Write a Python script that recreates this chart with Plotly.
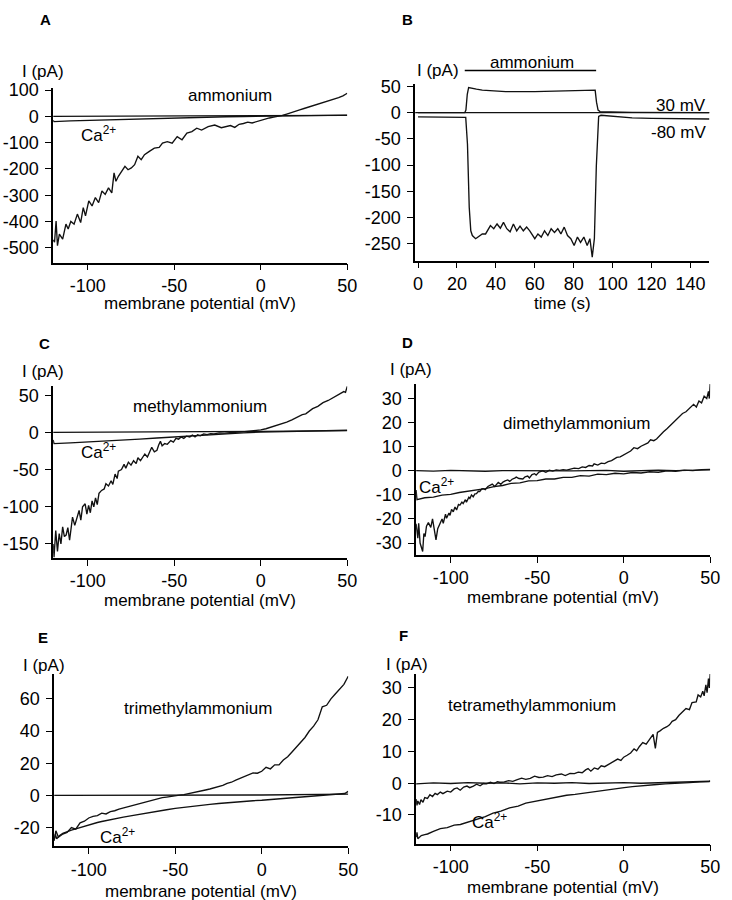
import plotly.graph_objects as go

# ---------------- data ----------------
# A: ammonium, I-V ramp
A_V = [-120, -119.2, -118.3, -117.5, -116.4, -114.5, -112.6, -111.3, -109.8, -107.9, -106, -104.1,
       -102.6, -101.3, -99.4, -97.5, -95.6, -93.7, -91.8, -89.9, -88, -86.1, -84.8, -83.7, -82.3,
       -80.4, -78.5, -76.7, -74.8, -72.9, -71, -69.1, -67.2, -64.4, -61.5, -58.7, -56.8, -54, -51.2,
       -48.3, -45.5, -42.7, -39.8, -37, -34.2, -30.4, -26.6, -22.8, -20, -17.5, -15, -12.5, -10,
       -7.5, -5, -2.5, 0, 2.5, 5, 7.5, 10, 12.5, 15, 17.5, 20, 22.5, 25, 27.5, 30, 32.5, 35, 37.5,
       40, 42.5, 45, 47.5, 50]
A_NH4 = [-470, -479, -398, -492, -448, -467, -410, -429, -400, -410, -372, -404,
         -347, -379, -322, -341, -309, -328, -284, -297, -272, -291, -215, -247, -228,
         -209, -190, -203, -196, -184, -152, -165, -146, -133, -121, -118, -102, -96, -102,
         -77, -89, -64, -58, -45, -52, -39, -33, -43, -38, -35, -42, -30, -27,
         -22, -25, -20, -16, -11, -6, -3, 0, 4, 9, 15, 20, 25, 30, 35, 40, 44, 49, 55,
         60, 66, 71, 78, 88]
A_CA_V = [-120, -119.5, -110, -100, -90, -80, -70, -60, -50, -40, -30, -20, -10, 0, 10, 20, 30, 40, 50]
A_CA = [-15, -20, -17, -15, -13, -11, -9, -7, -5, -3.5, -2.5, -1.5, -0.5, 0.5, 1.5, 2.5, 3.5, 4.5, 5]
A_BASE_V = [-120, -60, 0, 50]
A_BASE = [0, 1, 2.5, 4]

# B: time course at 30 mV and -80 mV
B_T30 = [0, 10, 20, 24, 24.6, 25.3, 26, 27, 30, 33, 36, 40, 45, 50, 55, 60, 65, 70, 75, 80,
         85, 90, 91, 91.7, 92.5, 93.5, 100, 110, 150]
B_I30 = [0, 0, 0, 0, 5, 35, 48, 47, 45, 43, 42, 41, 40, 40, 39.5, 40, 40.5, 41, 42, 42.5,
         43, 44, 43, 20, 5, 2, 1, 0.5, 0]
B_T80 = [0, 10, 20, 24.5, 25.4, 26.3, 27.1, 27.9, 29.6, 31.3, 33.0, 34.7, 37.2, 38.9, 40.6, 42.3,
         43.9, 45.6, 47.3, 49.0, 50.7, 52.4, 54.1, 55.8, 57.4, 60.0, 61.6, 63.3, 65.0, 66.7, 68.4,
         70.1, 71.8, 73.4, 75.1, 76.8, 78.5, 80.2, 81.9, 83.5, 85.2, 86.9, 88.3, 89.5, 90.6, 91.6,
         92.8, 94, 97, 100, 110, 120, 130, 140, 150]
B_I80 = [-8, -8, -8, -9, -60, -180, -225, -234, -240, -236, -231, -231, -215, -221, -212, -220,
         -209, -221, -227, -212, -225, -216, -225, -218, -225, -240, -231, -237, -225, -234, -221,
         -228, -221, -231, -218, -234, -240, -253, -237, -247, -237, -253, -240, -275, -240, -102,
         -7, -5, -6, -8, -10, -11, -11, -12, -12]
B_BASE_T = [-1.5, 150]
B_BASE = [0, 0]
B_BAR_T = [24, 91.5]  # ammonium application

# C: methylammonium
C_V = [-120, -119.5, -118.5, -117.5, -116.5, -115.5, -114.5, -113.5, -112.5, -111.5, -110.5, -109.5,
       -108.8, -107.5, -106, -105, -104, -103, -101.5, -100.5, -99.5, -98.5, -97.5, -96.5, -95.5,
       -94.5, -93.5, -92, -90.5, -89.5, -88, -86.5, -85.5, -84.2, -83, -82.3, -80.5, -79, -78,
       -76.5, -75, -73.5, -72, -71, -69.5, -68, -67, -65.5, -64, -63, -61.5, -60, -59, -58, -57,
       -55.5, -54, -52, -50.5, -49, -47.5, -46, -44.5, -43, -41, -39.5, -38, -36.5, -35, -33, -31,
       -29, -27, -24, -21, -18, -15, -12, -9, -6, -3, 0, 3, 6, 9, 12, 15, 18, 21, 24, 26, 28, 30,
       33, 36, 39, 42, 45, 48, 49, 50]
C_MA = [-150, -168, -132, -160, -136, -150, -127, -140, -138, -128, -145, -125,
        -114, -125, -112, -105, -118, -100, -96, -110, -98, -108, -92, -100, -88,
        -97, -82, -78, -76, -69, -72, -65, -70, -56, -62, -52, -50, -43, -48,
        -40, -44, -38, -42, -34, -38, -32, -29, -33, -24, -20, -26, -24, -17, -12, -18,
        -15, -16, -11, -13, -8, -9, -6, -8, -5, -6, -3.5, -6, -3, -4.5, -2, -3,
        -1.5, -2, -0.5, -1, 0, 0.3, 0.5, 1, 1.8, 2.5, 3.5, 5, 7, 9, 11.5, 14, 17, 21, 24, 25, 28, 32,
        35, 40, 43, 47, 50, 55, 54, 62]
C_CA_V = [-120, -119.5, -110, -100, -90, -80, -70, -60, -50, -40, -30, -20, -10, 0, 10, 20, 30, 40, 50]
C_CA = [-10, -15, -14, -13, -12, -10.5, -9, -7.5, -6, -4.5, -3, -1.5, -0.5, 0.5, 1, 1.5, 2, 2.5, 3]
C_BASE_V = [-120, -60, 0, 50]
C_BASE = [0, 0.5, 1.5, 2.5]

# D: dimethylammonium
D_V = [-120, -119, -118.5, -117.7, -116.2, -115.5, -114.8, -114, -112.9, -111.5, -110.5, -110, -108.5,
       -107.5, -106.2, -105, -104.3, -103, -102.4, -101, -100.4, -99.5, -98.5, -97.5, -96.6, -95.5,
       -94.7, -93.5, -92.8, -91.5, -90.9, -89.5, -88.9, -88, -87, -86, -85.1, -84, -83.2, -82, -81.2,
       -80, -78.5, -77.4, -76, -74.5, -73.6, -72.5, -71, -69.8, -68.5, -67, -65.9, -64.5, -63, -62.1,
       -60.5, -58.3, -57, -55.5, -54.5, -53, -51.5, -50.6, -49, -47.5, -46.8, -45, -43, -41, -39, -37,
       -35, -33, -30, -28.6, -26, -24, -22, -20, -18, -17.1, -15, -13, -11, -9, -7, -5.6, -4, -2, 0, 2,
       4, 5.9, 8, 10, 12, 14, 15.5, 17.4, 19, 21, 23, 25, 27, 28.9, 30, 32, 34, 36, 38, 40.4, 42, 43.5,
       45, 46.5, 48, 49, 49.5, 50]
D_DMA = [-22, -28, -21.8, -30, -33.5, -26, -27.3, -23, -21.5, -23.5, -20, -21.8, -28.7,
         -24, -22, -20, -21.8, -18, -19.7, -17.5, -18.5, -16, -17, -15, -16.3, -14,
         -14.3, -13, -13.6, -12, -13, -11, -11.5, -10, -10.8, -9.6, -9.5, -8.5, -8.6, -7.5, -7.4,
         -7.8, -6.5, -6.0, -5.5, -6.5, -5.5, -4.8, -5.6, -4.7, -4.2, -3.8, -4.4, -3.5, -3.0, -2.6,
         -3.2, -3.4, -2.5, -2.2, -3.0, -1.6, -1.2, -1.8, -0.5, -0.3, 0, -0.6, 0.2, -0.1, 0.4, 0.2,
         0.5, 0.3, 0.8, 1.1, 0.9, 1.6, 1.4, 2.2, 2.0, 2.9, 2.4, 3.2, 3.0, 3.8, 4.2, 4.9, 5.6, 5.8, 6.6, 7.5,
         8.2, 9.6, 9.2, 10.2, 11, 11.6, 12.9, 12.5, 13.2, 14.8, 16.2, 17.5, 18.9, 20.2, 21.2, 22.3, 23.8, 24.5, 25.8, 27.6, 26.5, 29,
         28.2, 31, 30, 33, 30, 36]
D_CA_V = [-120, -119.5, -115, -110, -105, -100, -95, -90, -85, -80, -75, -70, -65, -60, -55, -50,
          -45, -40, -35, -30, -25, -20, -15, -10, -5, 0, 5, 10, 15, 20, 25, 30, 35, 40, 45, 50]
D_CA = [-8, -12, -11.2, -10.9, -10.1, -9.8, -9.0, -8.5, -7.8, -7.4, -6.6, -6.1, -5.2, -5.0, -4.2, -4.1,
        -3.4, -3.4, -2.7, -2.7, -2.0, -2.2, -1.4, -1.6, -1.0, -1.3, -0.7, -0.9, -0.4, -0.6, 0, -0.2,
        0.3, 0.1, 0.5, 0.6]
D_BASE_V = [-120, -110, -100, -90, -80, -70, -60, -50, -40, -30, -20, -10, 0, 10, 20, 30, 40, 50]
D_BASE = [0.1, -0.1, 0.2, 0, -0.2, 0.1, 0, 0.2, -0.1, 0, 0.1, 0.2, -0.2, 0, 0.3, 0.1, 0.2, 0.4]

# E: trimethylammonium
E_V = [-120, -119, -117.5, -115, -112.5, -110, -107.5, -105, -102.5, -100, -97.5, -95, -92.5, -90,
       -87.5, -85, -82.5, -80, -77.5, -75, -72.5, -70, -67.5, -65, -62.5, -60, -57.5, -55, -52.5,
       -50, -47.5, -45, -42.5, -40, -37.5, -35, -32.5, -30, -27.5, -25, -22.5, -20, -17.5, -15,
       -12.5, -10, -7.5, -5, -2.5, 0, 2.5, 5, 7.5, 10, 12.5, 15, 17.5, 20, 22.5, 25, 27.5, 30,
       32.5, 35, 37.5, 40, 42.5, 45, 47.5, 50]
E_TMA = [-28, -22, -26, -24, -23, -20, -21, -17, -16, -14, -13, -12.5, -11, -11.5,
         -10, -9.5, -8.5, -7.8, -7, -6, -5.4, -5, -4.2, -3.6, -2.8, -2.2, -1.4, -1, -0.5,
         0, 0.2, 0.5, 1.0, 1.6, 2.2, 2.6, 3.4, 4, 4.6, 5.5, 6.2, 7.5, 8.2, 9.5,
         10.5, 11.5, 13, 14, 13.8, 15, 17.5, 16.5, 19, 19, 22, 24, 27, 30, 33, 36, 40, 43,
         47, 55, 56, 60, 63, 66, 69, 74]
E_CA_V = [-120, -119.3, -118.5, -117, -115, -113, -110, -107.5, -105, -102.5, -100, -97.5, -95,
          -92.5, -90, -87.5, -85, -82.5, -80, -75, -70, -65, -60, -55, -50, -45, -40, -35, -30,
          -25, -20, -15, -10, -5, 0, 5, 10, 15, 20, 25, 30, 35, 40, 45, 48, 50]
E_CA = [-28, -24, -27, -25, -23.5, -22.5, -21.5, -20.8, -20, -19, -18, -17.5, -16.8,
        -16.2, -15.6, -15, -14.6, -14, -13.5, -12.5, -11.5, -10.7, -9.8, -8.9, -8, -7.3, -6.6, -6, -5.5,
        -5, -4.5, -4, -3.6, -3.3, -3, -2.6, -2.2, -1.7, -1.3, -0.9, -0.5, -0.1, 0.3, 0.7, 1.2, 2.5]
E_BASE_V = [-120, -60, 0, 50]
E_BASE = [0, 0, 0.3, 0.8]

# F: tetramethylammonium
F_V = [-120, -119.5, -119, -118, -117.2, -116, -115, -113.4, -112, -110.5, -109, -107.7, -106, -104.5,
       -102, -100, -98, -96.3, -94.5, -92.5, -90.6, -89, -86.9, -85, -83, -81, -79.3, -77, -75, -73,
       -71.7, -69, -66.5, -64.1, -61.5, -59, -56.6, -54, -51.5, -49, -46.5, -44, -41.4, -39, -36,
       -33.8, -31, -28.5, -26.25, -24, -22, -20.6, -19, -17, -14.9, -13, -11, -9.2, -7.5, -5.5, -3.5,
       -1.6, 0, 2, 4, 6, 7.5, 9, 11, 13, 15.4, 17, 18.3, 19.5, 21, 23, 25, 26.5, 28, 30, 32, 34.4, 36,
       38, 39.5, 41.9, 43, 44.5, 45.7, 46.5, 47.5, 48.2, 49, 49.5, 50]
F_TMA = [-5, -7, -5.6, -6.7, -5.2, -6, -4.5, -4.8, -3.6, -4.2, -3.2, -3.6, -2.8, -3.3,
         -2.5, -2.8, -1.8, -1.5, -2.2, -1.2, -0.9, -1.4, -0.9, -0.3, -0.8, -0.1, -0.2, 0.3, -0.1, 0.5,
         0.3, 0.4, 0.8, 0.6, 1.1, 1.6, 1.2, 1.5, 2.2, 1.8, 1.9, 2.4, 2.1, 2.6, 2.9,
         2.4, 3.1, 3.0, 3.5, 3.3, 4.2, 4.6, 3.8, 4.8, 4.4, 5.5, 5.2, 5.8, 6.4, 6.9, 7.6,
         7.2, 8.2, 8.8, 9.5, 10.8, 10.2, 11.5, 12.8, 12.3, 14.2, 15.4, 11, 16, 16.5, 17.3, 17.8, 18.4, 19.5, 20, 21.4, 22.5, 23.5,
         23.2, 25.4, 25.6, 27.8, 27.2, 29, 27.5, 31, 28.5, 33, 30, 34.5]
F_CA_V = [-120, -119.5, -119, -117, -115, -113.4, -110, -106, -102, -98, -94.4, -90, -85, -80, -75.5,
          -71, -66, -61, -56.6, -52, -47.1, -42, -37.6, -33, -28.1, -23, -18.7, -14, -9.2, -4.5, 0.3,
          5, 9.7, 14.5, 19.2, 24, 28.7, 33.5, 38.1, 44, 49.5, 50]
F_CA = [-17, -15.5, -17.5, -16.5, -16.2, -16, -15.2, -14.3, -14, -13.2, -13, -12.2, -11.5, -10.5, -9.4,
        -8.8, -7.8, -7.2, -6.3, -5.8, -5.2, -4.6, -4.2, -3.8, -3.5, -3.1, -2.7, -2.4, -2.1, -1.8, -1.4,
        -1.1, -0.8, -0.6, -0.4, -0.2, 0, 0.1, 0.2, 0.4, 0.5, 0.8]
F_BASE_V = [-120, -110, -100, -90, -80, -70, -60, -50, -40, -30, -20, -10, 0, 10, 20, 30, 40, 50]
F_BASE = [-0.2, 0.1, -0.1, 0.2, 0, 0.1, -0.2, 0.1, 0, 0.2, -0.1, 0.1, 0.2, 0, 0.1, 0.2, 0.3, 0.6]

# ticks
V_TICKS = [-100, -50, 0, 50]
A_YTICKS = [-500, -400, -300, -200, -100, 0, 100]
B_XTICKS = [0, 20, 40, 60, 80, 100, 120, 140]
B_YTICKS = [-250, -200, -150, -100, -50, 0, 50]
C_YTICKS = [-150, -100, -50, 0, 50]
D_YTICKS = [-30, -20, -10, 0, 10, 20, 30]
E_YTICKS = [-20, 0, 20, 40, 60]
F_YTICKS = [-10, 0, 10, 20, 30]

W, H = 732, 900
FONT = "Arial, Liberation Sans, sans-serif"

# panel boxes in pixels: (left, right, top, bottom), axis ranges
panels = {
    "A": dict(box=(52, 351, 81, 257), xr=[-120, 50], yr=[-557, 107]),
    "B": dict(box=(420, 719, 77, 255), xr=[-1.5, 149.6], yr=[-282, 54]),
    "C": dict(box=(52, 351, 381, 555), xr=[-120, 50], yr=[-169, 63]),
    "D": dict(box=(421, 720, 379, 552), xr=[-120, 50], yr=[-35, 36.2]),
    "E": dict(box=(53, 352, 672, 846), xr=[-120, 50], yr=[-31.7, 75.4]),
    "F": dict(box=(421, 720, 672, 843), xr=[-120, 50], yr=[-19, 34.4]),
}


def tick_text(vals):
    # plain hyphen minus, as in the original figure
    return [str(v) for v in vals]


fig = go.Figure()
axis_ids = {"A": "", "B": "2", "C": "3", "D": "4", "E": "5", "F": "6"}
yticks = {"A": A_YTICKS, "B": B_YTICKS, "C": C_YTICKS, "D": D_YTICKS, "E": E_YTICKS, "F": F_YTICKS}

for key, p in panels.items():
    n = axis_ids[key]
    l, r, t, b = p["box"]
    xt = B_XTICKS if key == "B" else V_TICKS
    common = dict(showline=True, linecolor="black", linewidth=1.5, ticks="outside", ticklen=6,
                  tickwidth=1.4, tickcolor="black", showgrid=False, zeroline=False,
                  tickfont=dict(family=FONT, size=18, color="black"), fixedrange=True)
    fig.layout["xaxis" + n] = dict(domain=[l / W, r / W], range=p["xr"], anchor="y" + n,
                                   tickvals=xt, ticktext=tick_text(xt), **common)
    fig.layout["yaxis" + n] = dict(domain=[1 - b / H, 1 - t / H], range=p["yr"], anchor="x" + n,
                                   tickvals=yticks[key], ticktext=tick_text(yticks[key]),
                                   ticklabelstandoff=3, **common)

line = dict(color="#111111", width=1.35)


def add(x, y, n):
    fig.add_trace(go.Scatter(x=x, y=y, mode="lines", line=line, xaxis="x" + n, yaxis="y" + n,
                             showlegend=False, hoverinfo="skip"))


add(A_BASE_V, A_BASE, "")
add(A_CA_V, A_CA, "")
add(A_V, A_NH4, "")
add(B_BASE_T, B_BASE, "2")
add(B_T30, B_I30, "2")
add(B_T80, B_I80, "2")
add(C_BASE_V, C_BASE, "3")
add(C_CA_V, C_CA, "3")
add(C_V, C_MA, "3")
add(D_BASE_V, D_BASE, "4")
add(D_CA_V, D_CA, "4")
add(D_V, D_DMA, "4")
add(E_BASE_V, E_BASE, "5")
add(E_CA_V, E_CA, "5")
add(E_V, E_TMA, "5")
add(F_BASE_V, F_BASE, "6")
add(F_CA_V, F_CA, "6")
add(F_V, F_TMA, "6")

# ammonium application bar in B (above the axes)
fig.add_shape(type="line", xref="x2", yref="paper", x0=B_BAR_T[0], x1=B_BAR_T[1],
              y0=1 - 63 / H, y1=1 - 63 / H, line=dict(color="black", width=1.4))

ann = []


def paper_text(text, px, py, size=17, bold=False, xanchor="center"):
    ann.append(dict(text="<b>%s</b>" % text if bold else text, x=px / W, y=1 - py / H,
                    xref="paper", yref="paper", showarrow=False, xanchor=xanchor, yanchor="middle",
                    font=dict(family=FONT, size=size, color="black")))


def data_text(text, x, y, n, xanchor="center"):
    ann.append(dict(text=text, x=x, y=y, xref="x" + n, yref="y" + n, showarrow=False,
                    xanchor=xanchor, yanchor="middle",
                    font=dict(family=FONT, size=17, color="black")))


# panel letters
for lab, px, py in [("A", 44, 12), ("B", 412, 12), ("C", 43, 339), ("D", 412, 337),
                    ("E", 42, 635), ("F", 408, 633)]:
    paper_text(lab, px, py, size=15, bold=True)

# y-axis titles
for px, py in [(42, 64), (443, 63), (42, 367), (416, 365), (43, 663), (412, 662)]:
    paper_text("I (pA)", px, py)

# x-axis titles
paper_text("membrane potential (mV)", 201, 298)
paper_text("time (s)", 570, 298)
paper_text("membrane potential (mV)", 201, 598)
paper_text("membrane potential (mV)", 570, 595)
paper_text("membrane potential (mV)", 202, 891)
paper_text("membrane potential (mV)", 570, 887)

# trace labels
paper_text("ammonium", 539, 55)
data_text("ammonium", -18, 79, "")
data_text("Ca<sup>2+</sup>", -94, -68, "")
data_text("30 mV", 149, 13, "2", xanchor="right")
data_text("-80 mV", 149, -38, "2", xanchor="right")
data_text("methylammonium", -35, 35, "3")
data_text("Ca<sup>2+</sup>", -94, -25, "3")
data_text("dimethylammonium", -27, 19.6, "4")
data_text("Ca<sup>2+</sup>", -108, -6.5, "4")
data_text("trimethylammonium", -37, 54, "5")
data_text("Ca<sup>2+</sup>", -83.6, -25, "5")
data_text("tetramethylammonium", -52.8, 24.6, "6")
data_text("Ca<sup>2+</sup>", -77.4, -11.9, "6")

fig.update_layout(width=W, height=H, margin=dict(l=0, r=0, t=0, b=0),
                  paper_bgcolor="white", plot_bgcolor="white", annotations=ann,
                  font=dict(family=FONT, color="black"))

# no page margin / scrollbar so the 732x900 figure fills the window exactly
fig.write_html("out.html", config={"displayModeBar": False},
               post_script="document.body.style.margin='0';document.body.style.overflow='hidden';")
